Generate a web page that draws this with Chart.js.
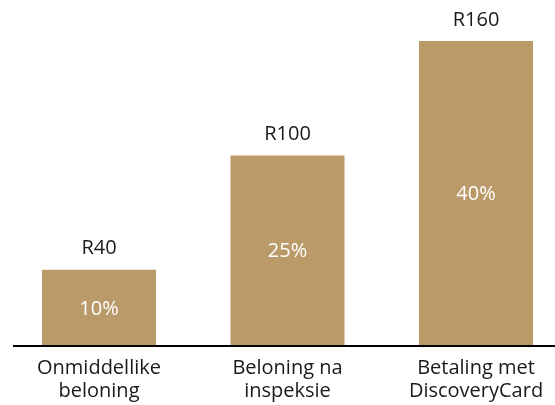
<!DOCTYPE html>
<html lang="af">
<head>
    <meta charset="utf-8">
    <title>Beloning</title>
    <script src="https://cdn.jsdelivr.net/npm/chart.js"></script>
    <style>
        html, body { margin: 0; padding: 0; background: #fff; }
        #wrap { width: 555px; height: 405px; position: relative; }
    </style>
</head>
<body>
    <div id="wrap"><canvas id="rewardChart"></canvas></div>

    <script>
        // data
        const categories = [['Onmiddellike', 'beloning'], ['Beloning na', 'inspeksie'], ['Betaling met', 'DiscoveryCard']];
        const amounts = [40, 100, 160];
        const shares = [10, 25, 40];

        const barColor = '#BB9A69';
        const fontFamily = '"Open Sans", "Noto Sans", sans-serif';

        // value on top (R..) and percentage inside each bar, plus the long base line
        const barLabels = {
            id: 'barLabels',
            afterDatasetsDraw(chart) {
                const ctx = chart.ctx;
                const meta = chart.getDatasetMeta(0);
                const yScale = chart.scales.y;
                const base = yScale.getPixelForValue(0);

                ctx.save();
                ctx.strokeStyle = '#000';
                ctx.lineWidth = 2;
                ctx.beginPath();
                ctx.moveTo(13, base);
                ctx.lineTo(chart.width, base);
                ctx.stroke();

                ctx.textAlign = 'center';
                ctx.textBaseline = 'middle';
                meta.data.forEach((bar, i) => {
                    ctx.font = '20px ' + fontFamily;
                    ctx.fillStyle = '#1a1a1a';
                    ctx.fillText('R' + amounts[i], bar.x, bar.y - 21);
                    ctx.fillStyle = '#fff';
                    ctx.fillText(shares[i] + '%', bar.x, (bar.y + base) / 2 + 1);
                });
                ctx.restore();
            }
        };

        new Chart(document.getElementById('rewardChart'), {
            type: 'bar',
            data: {
                labels: categories,
                datasets: [{
                    data: amounts,
                    backgroundColor: barColor,
                    barPercentage: 0.605,
                    categoryPercentage: 1,
                    clip: false
                }]
            },
            options: {
                responsive: true,
                maintainAspectRatio: false,
                animation: false,
                layout: { padding: { left: 99, right: 79, top: 41, bottom: -9 } },
                plugins: { legend: { display: false }, tooltip: { enabled: false } },
                scales: {
                    x: {
                        offset: false,
                        grid: { display: false, drawTicks: false },
                        border: { display: false },
                        ticks: {
                            color: '#1a1a1a',
                            padding: 11,
                            maxRotation: 0,
                            autoSkip: false,
                            font: { family: fontFamily, size: 20, lineHeight: 1.15 }
                        }
                    },
                    y: {
                        display: false,
                        min: 0,
                        max: 160
                    }
                }
            },
            plugins: [barLabels]
        });
    </script>
</body>
</html>
